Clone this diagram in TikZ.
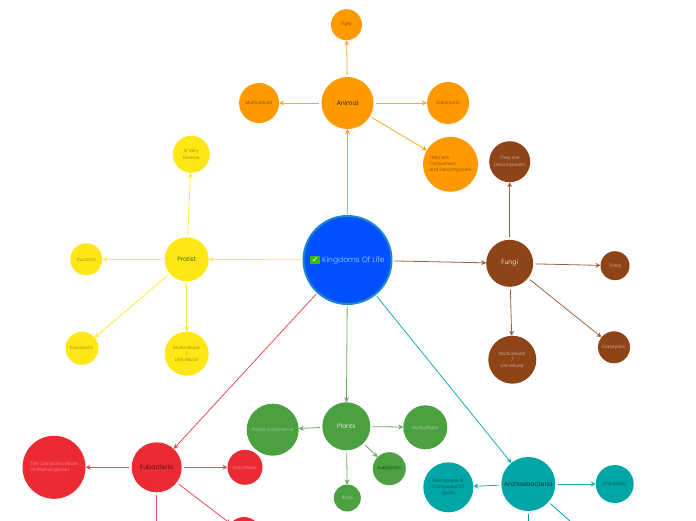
\documentclass[tikz,border=0pt]{standalone}
\usepackage{fontspec}
\setmainfont{Poppins}[UprightFont=* Light]
\newfontfamily\symbolfont{DejaVu Sans}
\usetikzlibrary{positioning, arrows.meta, shapes.geometric}

\definecolor{rootblue}{HTML}{0050FF}
\definecolor{rootrim}{HTML}{1E88CC}
\definecolor{checkgreen}{HTML}{3DB70F}
\definecolor{animalorange}{HTML}{FF9900}
\definecolor{protistyellow}{HTML}{FFE716}
\definecolor{fungibrown}{HTML}{8F4418}
\definecolor{eubred}{HTML}{EC2A34}
\definecolor{plantgreen}{HTML}{4BA03F}
\definecolor{archteal}{HTML}{00A6A6}

\begin{document}
\begin{tikzpicture}[
    x=1pt, y=1pt,
    bubble/.style={circle, inner sep=0pt, outer sep=0pt, align=center, font=\fontsize{4.6}{6.4}\selectfont},
    hub/.style={bubble, font=\fontsize{6.2}{7.5}\selectfont},
    animalhub/.style={hub, fill=animalorange, text=black},
    animalleaf/.style={bubble, fill=animalorange, text=animalorange!45!black},
    protisthub/.style={hub, fill=protistyellow, text=black!70!green},
    protistleaf/.style={bubble, fill=protistyellow, text=protistyellow!55!black},
    fungihub/.style={hub, fill=fungibrown, text=white},
    fungileaf/.style={bubble, fill=fungibrown, text=fungibrown!35!white},
    eubhub/.style={hub, fill=eubred, text=eubred!20!black},
    eubleaf/.style={bubble, fill=eubred, text=eubred!50!white},
    planthub/.style={hub, fill=plantgreen, text=white},
    plantleaf/.style={bubble, fill=plantgreen, text=plantgreen!40!white},
    archhub/.style={hub, fill=archteal, text=archteal!15!black},
    archleaf/.style={bubble, fill=archteal, text=archteal!40!black},
    arrow/.style={-{Stealth[length=5pt, width=5pt]}, line width=0.8pt, shorten <=2.5pt},
    animalarrow/.style={arrow, animalorange!85!white},
    protistarrow/.style={arrow, protistyellow!85!white},
    fungiarrow/.style={arrow, fungibrown!85!white},
    eubarrow/.style={arrow, eubred!85!white},
    plantarrow/.style={arrow, plantgreen!85!white},
    archarrow/.style={arrow, archteal!90!white},
    openline/.style={line width=0.8pt, shorten <=2.5pt},
]
\useasboundingbox (0,-520) rectangle (696,0);
\clip (0,-520) rectangle (696,0);

% Centre node
\node[circle, inner sep=0pt, outer sep=0pt, minimum size=88pt, draw=rootrim, line width=2pt, fill=rootblue, text=rootblue!30!white, font=\fontsize{7.6}{9}\selectfont] (root) at (347.5,-260) {{\setlength{\fboxsep}{1.5pt}\colorbox{checkgreen}{\symbolfont\fontsize{8}{9}\selectfont\textcolor{white}{✓}}} Kingdoms Of Life};

% Main branches
\node[animalhub, minimum size=52pt, above=87pt of root] (animal) {Animal};
\node[protisthub, minimum size=44pt, left=94.8pt of root, yshift=0.7pt] (protist) {Protist};
\node[fungihub, minimum size=47pt, right=94.7pt of root, yshift=-3.3pt] (fungi) {Fungi};
\node[eubhub, minimum size=50pt, left=121.8pt of root, yshift=-207.3pt] (eubacteria) {Eubacteria};
\node[planthub, minimum size=48pt, below=98.3pt of root, xshift=-1.2pt] (plants) {Plants};
\node[archhub, minimum size=54pt, right=109.8pt of root, yshift=-224pt] (archaea) {Archaebacteria};

% Animal leaves
\node[animalleaf, minimum size=31pt, above=36.8pt of animal, xshift=-1pt] (tiger) {Tiger};
\node[animalleaf, minimum size=40pt, left=42.4pt of animal] (animalmulti) {Multicellular};
\node[animalleaf, minimum size=42pt, right=53.6pt of animal] (animaleuk) {Eukaryotic};
\node[animalleaf, minimum size=55pt, right=49.5pt of animal, yshift=-61.3pt, align=left] (consumers) {They Are\\Consumers\\And Decomposers};

% Protist leaves
\node[protistleaf, minimum size=37pt, above=64.5pt of protist, xshift=4.6pt] (diverse) {Is Very\\Diverse};
\node[protistleaf, minimum size=32pt, left=62.4pt of protist] (suctoria) {Suctoria};
\node[protistleaf, minimum size=33pt, left=66.2pt of protist, yshift=-89pt] (protisteuk) {Eukaryotic};
\node[protistleaf, minimum size=44pt, below=50.4pt of protist] (protistmulti) {Multicellular\\/\\Unicellular};

% Fungi leaves
\node[fungileaf, minimum size=41pt, above=57.6pt of fungi] (decomposers) {They Are\\Decomposers};
\node[fungileaf, minimum size=29pt, right=67.3pt of fungi, yshift=-2.4pt] (tinea) {Tinea};
\node[fungileaf, minimum size=32pt, right=64.8pt of fungi, yshift=-84pt] (fungieuk) {Eukaryotic};
\node[fungileaf, minimum size=48pt, below=48.9pt of fungi, xshift=2.6pt] (fungimulti) {Multicellular\\/\\Unicellular};

% Eubacteria leaves
\node[eubleaf, minimum size=63pt, left=46.2pt of eubacteria, align=left] (cellwall) {The Cell Wall Is Made\\Of Peptidoglycan};
\node[eubleaf, minimum size=35pt, right=45.8pt of eubacteria] (eubuni) {Unicellular};
\node[eubleaf, minimum size=34pt, right=45.3pt of eubacteria, yshift=-66.7pt] (eubcut) {};
\coordinate[below=40pt of eubacteria] (eubdown);

% Plant leaves
\node[plantleaf, minimum size=52pt, left=23.6pt of plants, yshift=-3.4pt] (dontmove) {Plants Donts Move};
\node[plantleaf, minimum size=44pt, right=33pt of plants, yshift=-1pt] (plantmulti) {Multicellular};
\node[plantleaf, minimum size=33pt, right=2.5pt of plants, yshift=-42.4pt, text=plantgreen!25!black] (planteuk) {Eukaryotic};
\node[plantleaf, minimum size=27pt, below=34.2pt of plants, xshift=1pt] (rose) {Rose};

% Archaebacteria leaves
\node[archleaf, minimum size=50pt, left=28pt of archaea, yshift=-3.3pt] (membrane) {Membrane Is\\Composed Of\\Lipids};
\node[archleaf, minimum size=38pt, right=40.4pt of archaea] (archuni) {Unicellular};
\coordinate[below=20pt of archaea] (archdown);
\coordinate[right=33.7pt of archaea, yshift=-54pt] (archside);

% Arrows from the centre
\draw[animalarrow] (root) -- (animal);
\draw[protistarrow] (root) -- (protist);
\draw[fungiarrow] (root) -- (fungi);
\draw[eubarrow] (root) -- (eubacteria);
\draw[plantarrow] (root) -- (plants);
\draw[archarrow] (root) -- (archaea);

% Branch arrows
\draw[animalarrow] (animal) -- (tiger);
\draw[animalarrow] (animal) -- (animalmulti);
\draw[animalarrow] (animal) -- (animaleuk);
\draw[animalarrow] (animal) -- (consumers);

\draw[protistarrow] (protist) -- (diverse);
\draw[protistarrow] (protist) -- (suctoria);
\draw[protistarrow] (protist) -- (protisteuk);
\draw[protistarrow] (protist) -- (protistmulti);

\draw[fungiarrow] (fungi) -- (decomposers);
\draw[fungiarrow] (fungi) -- (tinea);
\draw[fungiarrow] (fungi) -- (fungieuk);
\draw[fungiarrow] (fungi) -- (fungimulti);

\draw[eubarrow] (eubacteria) -- (cellwall);
\draw[eubarrow] (eubacteria) -- (eubuni);
\draw[eubarrow] (eubacteria) -- (eubcut);
\draw[openline, eubred!85!white] (eubacteria) -- (eubdown);

\draw[plantarrow] (plants) -- (dontmove);
\draw[plantarrow] (plants) -- (plantmulti);
\draw[plantarrow] (plants) -- (planteuk);
\draw[plantarrow] (plants) -- (rose);

\draw[archarrow] (archaea) -- (membrane);
\draw[archarrow] (archaea) -- (archuni);
\draw[openline, archteal] (archaea) -- (archdown);
\draw[openline, archteal] (archaea) -- (archside);

\end{tikzpicture}
\end{document}
